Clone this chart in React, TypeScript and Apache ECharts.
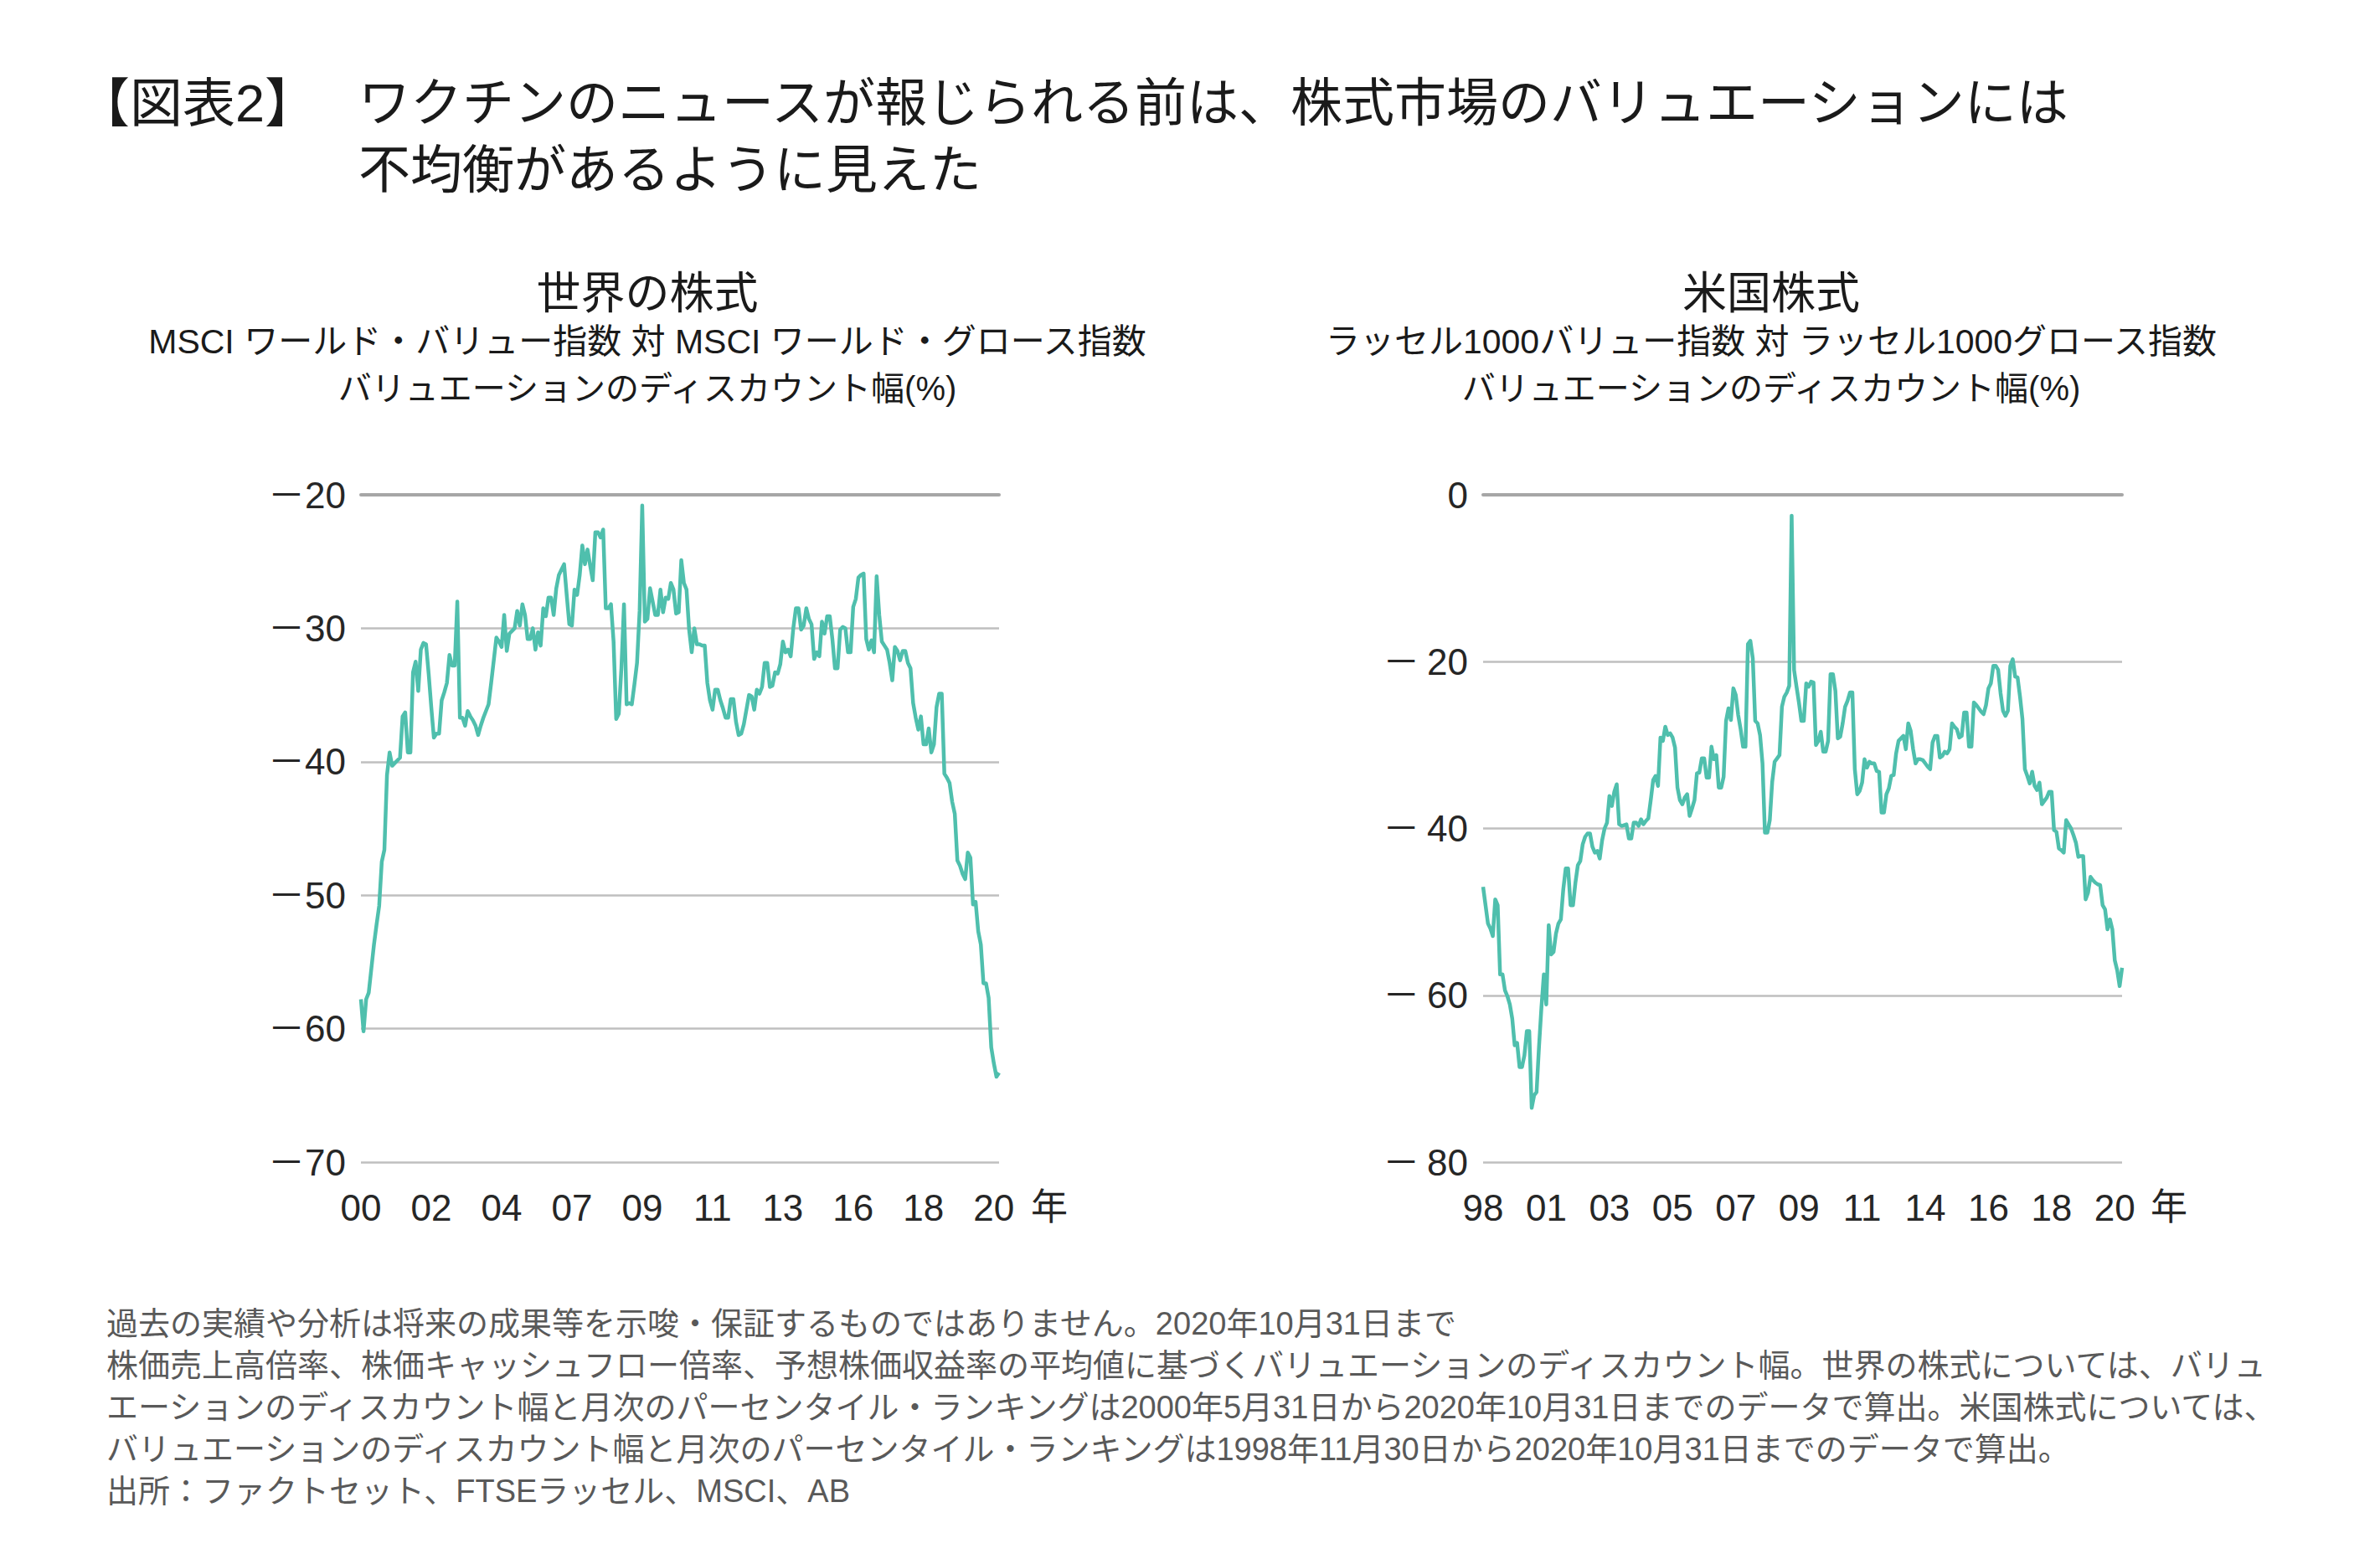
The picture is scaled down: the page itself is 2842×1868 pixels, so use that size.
import React, { useEffect, useRef } from 'react';
import * as echarts from 'echarts';

const FONT = "'Liberation Sans', 'Noto Sans CJK JP', sans-serif";
const LINE_COLOR = '#4fbfad';
const TEXT_COLOR = '#262626';

// MSCI World Value vs Growth valuation discount (%), monthly from 2000-05 to 2020-10
const worldValues = [
  -57.8, -60.2, -57.8, -57.3, -55.5, -53.7, -52.2, -50.8, -47.5, -46.6,
  -41, -39.3, -40.3, -40.1, -39.9, -39.7, -36.6, -36.3, -39.3, -39.3,
  -33.3, -32.5, -34.7, -31.6, -31.1, -31.2, -33.4, -35.9, -38.2, -37.9,
  -37.9, -35.4, -34.8, -34.1, -32, -32.8, -32.8, -28, -36.7, -36.7,
  -37.3, -36.2, -36.6, -36.9, -37.3, -38, -37.3, -36.7, -36.2, -35.7,
  -34.1, -32.4, -30.7, -31, -31.4, -29, -31.7, -30.4, -30.2, -30,
  -28.7, -29.8, -28.2, -29, -30.8, -30.8, -30, -31.6, -30.3, -31.3,
  -28.5, -29.1, -27.7, -27.7, -29, -27, -26, -25.6, -25.2, -27.5,
  -29.7, -29.8, -27.1, -27.5, -26, -23.8, -25.2, -24.1, -25.3, -26.4,
  -22.8, -22.8, -23.2, -22.6, -28.5, -28.5, -28.2, -31, -36.8, -36.4,
  -33, -28.2, -35.7, -35.6, -35.7, -34.2, -32.6, -28.7, -20.8, -29.5,
  -29.3, -27, -28, -29, -29, -27.1, -28.8, -27.7, -27.8, -26.6,
  -27.1, -28.9, -28.8, -24.9, -26.6, -27.1, -30.1, -31.8, -30, -31.2,
  -31.2, -31.3, -31.3, -34.1, -35.4, -36.1, -34.6, -34.6, -35.4, -36,
  -36.7, -36.7, -35.3, -35.3, -37, -38, -37.9, -37.2, -36.1, -35,
  -35.1, -36.1, -34.6, -34.9, -34.4, -32.6, -32.6, -34.4, -34.3, -33.3,
  -33.4, -32.7, -31, -31.8, -31.6, -32.1, -30, -28.5, -28.5, -30.1,
  -29.8, -28.5, -29.3, -29.7, -32.3, -31.8, -32.1, -29.5, -30.4, -29.1,
  -29.1, -30.8, -33, -33, -30.1, -29.9, -30, -31.8, -31.8, -28.4,
  -27.8, -26.2, -26, -25.9, -30.8, -31.6, -30.9, -31.8, -26.1, -29,
  -31, -31.3, -31.6, -32.6, -33.9, -31.4, -31.7, -32.4, -31.7, -31.7,
  -32.6, -33, -35.6, -36.7, -37.6, -36.6, -38.7, -38.7, -37.5, -39.3,
  -38.7, -35.9, -34.9, -34.9, -40.9, -41.2, -41.6, -43, -43.9, -47.4,
  -47.8, -48.4, -48.8, -46.8, -47.2, -50.7, -50.5, -52.7, -53.7, -56.6,
  -56.6, -57.7, -61.4, -62.6, -63.6, -63.3,
];

// Russell 1000 Value vs Growth valuation discount (%), monthly from 1998-11 to 2020-10
const usValues = [
  -47, -49.2, -51.4, -52, -52.9, -48.5, -49.2, -57.5, -57.5, -59.4,
  -60.1, -61.1, -62.8, -66, -65.7, -68.6, -68.6, -67.2, -64.3, -64.3,
  -73.5, -72, -71.6, -66.2, -61.5, -57.5, -61.1, -51.6, -55.1, -54.8,
  -52.6, -51.4, -50.9, -47.3, -44.8, -44.8, -49.2, -49.2, -46.5, -44.4,
  -43.9, -41.9, -41, -40.6, -40.6, -42.2, -42.9, -42.7, -43.6, -41.4,
  -40, -39.3, -36.1, -37.3, -35.6, -34.7, -39.5, -39.7, -39.6, -39.5,
  -41.2, -41.2, -39.3, -39.3, -39.7, -38.9, -39.5, -39.1, -38.8, -36.6,
  -34.2, -33.7, -34.9, -29.1, -29.5, -27.8, -28.8, -28.6, -29.1, -30.3,
  -35.1, -36.6, -37.1, -36.3, -35.9, -38.5, -37.6, -36.6, -33.4, -33.3,
  -31.6, -31.6, -33.9, -33.9, -30.2, -31.7, -31.2, -35.1, -35.1, -33.8,
  -27.1, -25.6, -27, -23.2, -24, -26.4, -28.1, -30.2, -30.2, -17.9,
  -17.5, -19.6, -27.1, -27.4, -28.8, -32.2, -40.5, -40.5, -39, -34.4,
  -32, -31.6, -31.2, -25.4, -24.2, -23.7, -22.9, -2.5, -21, -23,
  -24.9, -27.1, -27.1, -22.6, -23, -22.4, -22.5, -30, -29.5, -28.4,
  -30.8, -30.8, -29.5, -21.5, -21.5, -23.5, -29.2, -29, -27.4, -25.4,
  -24.7, -23.7, -23.7, -32.9, -35.9, -35.5, -34.5, -31.7, -32.7, -32,
  -32.2, -32.2, -33.1, -33.2, -38.1, -38.1, -35.9, -35.2, -33.7, -33.6,
  -31, -29.5, -29.2, -28.9, -30.5, -27.4, -28.3, -30.5, -32.2, -31.7,
  -31.7, -31.8, -32.2, -32.6, -32.9, -29.7, -28.9, -28.9, -31.5, -31.3,
  -30.8, -31, -30.5, -27.4, -27.8, -28.1, -29.1, -28.9, -26.1, -26.1,
  -30.2, -30.2, -24.9, -25.2, -25.6, -26, -26.3, -25.2, -23.2, -22.6,
  -20.5, -20.5, -21, -23.8, -25.9, -26.5, -25.9, -20.5, -19.7, -21.8,
  -21.9, -24.2, -26.9, -32.9, -33.7, -34.6, -33.2, -34.9, -35.4, -34.5,
  -37.1, -36.7, -36.3, -35.6, -35.6, -40.2, -40.4, -42.4, -42.6, -42.9,
  -39, -39.5, -40, -40.8, -41.7, -43.4, -43.3, -43.3, -48.5, -47.7,
  -45.8, -46.2, -46.5, -46.7, -46.8, -49.2, -49.7, -52.1, -50.9, -52.1,
  -55.8, -57, -58.9, -56.7,
];

const worldStart = { year: 2000, month: 5 };
const usStart = { year: 1998, month: 11 };

const mainTitleTag = '【図表2】';
const mainTitleLines = [
  'ワクチンのニュースが報じられる前は、株式市場のバリュエーションには',
  '不均衡があるように見えた',
];
const worldTitleLines = [
  '世界の株式',
  'MSCI ワールド・バリュー指数 対 MSCI ワールド・グロース指数',
  'バリュエーションのディスカウント幅(%)',
];
const usTitleLines = [
  '米国株式',
  'ラッセル1000バリュー指数 対 ラッセル1000グロース指数',
  'バリュエーションのディスカウント幅(%)',
];
const footnoteLines = [
  '過去の実績や分析は将来の成果等を示唆・保証するものではありません。2020年10月31日まで',
  '株価売上高倍率、株価キャッシュフロー倍率、予想株価収益率の平均値に基づくバリュエーションのディスカウント幅。世界の株式については、バリュ',
  'エーションのディスカウント幅と月次のパーセンタイル・ランキングは2000年5月31日から2020年10月31日までのデータで算出。米国株式については、',
  'バリュエーションのディスカウント幅と月次のパーセンタイル・ランキングは1998年11月30日から2020年10月31日までのデータで算出。',
  '出所：ファクトセット、FTSEラッセル、MSCI、AB',
];

function monthCategories(start: { year: number; month: number }, n: number): string[] {
  const out: string[] = [];
  let y = start.year;
  let m = start.month;
  for (let k = 0; k < n; k++) {
    out.push(`${y}-${String(m).padStart(2, '0')}`);
    m += 1;
    if (m > 12) {
      m = 1;
      y += 1;
    }
  }
  return out;
}

export default function App() {
  const ref = useRef<HTMLDivElement>(null);

  useEffect(() => {
    if (!ref.current) return;
    const chart = echarts.init(ref.current, null, { renderer: 'svg' });

    const worldCats = monthCategories(worldStart, worldValues.length);
    const usCats = monthCategories(usStart, usValues.length);

    const tickLabel = {
      fontSize: 44,
      color: TEXT_COLOR,
      fontFamily: FONT,
    };

    const bottomX = (gridIndex: number, cats: string[], interval: number, nameGap: number) => ({
      gridIndex,
      type: 'category',
      data: cats,
      boundaryGap: false,
      axisLine: { show: false, onZero: false },
      axisTick: { show: false },
      splitLine: { show: false },
      axisLabel: {
        ...tickLabel,
        interval,
        margin: 32,
        formatter: (c: string) => c.slice(2, 4),
      },
      name: '年',
      nameLocation: 'end',
      nameGap,
      nameTextStyle: {
        ...tickLabel,
        verticalAlign: 'top',
        padding: [32, 0, 0, 0],
      },
    });

    const topX = (gridIndex: number, cats: string[]) => ({
      gridIndex,
      type: 'category',
      position: 'top',
      data: cats,
      boundaryGap: false,
      axisLine: { show: true, onZero: false, lineStyle: { color: '#a6a6a6', width: 4 } },
      axisTick: { show: false },
      axisLabel: { show: false },
      splitLine: { show: false },
    });

    const textEl = (text: string, x: number, y: number, fontSize: number, align: string, fill: string) => ({
      type: 'text',
      x,
      y,
      silent: true,
      style: {
        text,
        fontSize,
        fontFamily: FONT,
        fill,
        align,
        verticalAlign: 'middle',
      },
    });

    const graphics: any[] = [];
    graphics.push(textEl(mainTitleTag, 92, 123, 63, 'left', '#1a1a1a'));
    mainTitleLines.forEach((t, k) => graphics.push(textEl(t, 428, 123 + k * 80, 62, 'left', '#1a1a1a')));
    const subY = [350, 408, 464];
    const subSize = [53, 41, 40];
    worldTitleLines.forEach((t, k) => graphics.push(textEl(t, 773, subY[k], subSize[k], 'center', '#1a1a1a')));
    usTitleLines.forEach((t, k) => graphics.push(textEl(t, 2115, subY[k], subSize[k], 'center', '#1a1a1a')));
    footnoteLines.forEach((t, k) => graphics.push(textEl(t, 127, 1581 + k * 50, 38, 'left', '#595959')));

    chart.setOption({
      animation: false,
      backgroundColor: '#ffffff',
      grid: [
        { left: 431, top: 591, width: 762, height: 797, containLabel: false },
        { left: 1771, top: 591, width: 763, height: 797, containLabel: false },
      ],
      xAxis: [
        bottomX(0, worldCats, 26, 38),
        topX(0, worldCats),
        bottomX(1, usCats, 25, 34),
        topX(1, usCats),
      ],
      yAxis: [
        {
          gridIndex: 0,
          type: 'value',
          min: -70,
          max: -20,
          interval: 10,
          axisLine: { show: false },
          axisTick: { show: false },
          splitLine: { show: true, lineStyle: { color: '#bfbfbf', width: 2.5 } },
          axisLabel: {
            ...tickLabel,
            margin: 18,
            formatter: (v: number) => (v < 0 ? '－' + Math.abs(v) : String(v)),
          },
        },
        {
          gridIndex: 1,
          type: 'value',
          min: -80,
          max: 0,
          interval: 20,
          axisLine: { show: false },
          axisTick: { show: false },
          splitLine: { show: true, lineStyle: { color: '#bfbfbf', width: 2.5 } },
          axisLabel: {
            ...tickLabel,
            margin: 18,
            formatter: (v: number) => (v < 0 ? '－\u2009' + Math.abs(v) : String(v)),
          },
        },
      ],
      series: [
        {
          type: 'line',
          xAxisIndex: 0,
          yAxisIndex: 0,
          data: worldValues,
          showSymbol: false,
          symbol: 'none',
          silent: true,
          lineStyle: { color: LINE_COLOR, width: 4.5, join: 'round' },
          itemStyle: { color: LINE_COLOR },
        },
        {
          type: 'line',
          xAxisIndex: 2,
          yAxisIndex: 1,
          data: usValues,
          showSymbol: false,
          symbol: 'none',
          silent: true,
          lineStyle: { color: LINE_COLOR, width: 4.5, join: 'round' },
          itemStyle: { color: LINE_COLOR },
        },
      ],
      graphic: graphics,
    });

    return () => chart.dispose();
  }, []);

  return (
    <div
      ref={ref}
      style={{ position: 'fixed', left: 0, top: 0, width: 2842, height: 1868, background: '#ffffff' }}
    />
  );
}
